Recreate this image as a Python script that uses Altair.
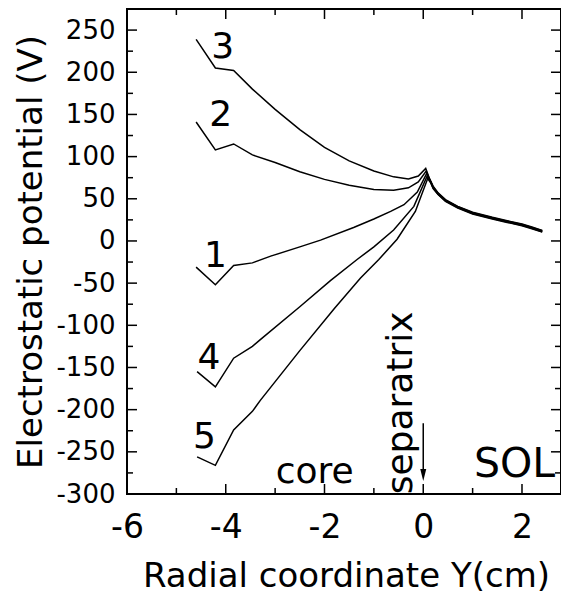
import altair as alt
import pandas as pd

# ---------------- data ----------------
curve_names = ["1", "2", "3", "4", "5"]

x1 = [-4.60, -4.21, -3.84, -3.46, -3.09, -2.5, -2.08, -1.41, -1.0, -0.66, -0.39, -0.12, 0.07, 0.13, 0.2, 0.3, 0.45, 0.7, 1.0, 1.4, 1.7, 2.0, 2.2, 2.41]
y1 = [-31, -52, -29, -26, -18, -7, 1, 16, 26, 35, 43, 58, 80, 73, 63.5, 56, 48, 40, 33, 27, 23, 19, 15.5, 11.5]

x2 = [-4.60, -4.21, -3.84, -3.46, -3.0, -2.5, -2.0, -1.5, -1.0, -0.6, -0.3, -0.1, 0.06, 0.12, 0.2, 0.3, 0.45, 0.7, 1.0, 1.4, 1.7, 2.0, 2.2, 2.41]
y2 = [141, 108, 115, 102, 93, 82, 73, 66, 61, 60, 63, 70, 83, 74, 64, 56.5, 48.5, 40.5, 33.5, 27.5, 23.5, 19.5, 16, 12]

x3 = [-4.60, -4.21, -3.84, -3.46, -3.0, -2.5, -2.0, -1.5, -1.0, -0.6, -0.3, -0.1, 0.05, 0.12, 0.2, 0.3, 0.45, 0.7, 1.0, 1.4, 1.7, 2.0, 2.2, 2.41]
y3 = [239, 205, 202, 180, 156, 132, 111, 95, 83, 76, 73.5, 77, 86, 75, 65, 57, 49, 41, 34, 28, 24, 20, 16.5, 12.5]

x4 = [-4.58, -4.21, -3.84, -3.46, -3.30, -2.5, -1.88, -1.34, -1.0, -0.6, -0.19, 0.08, 0.14, 0.2, 0.3, 0.45, 0.7, 1.0, 1.4, 1.7, 2.0, 2.2, 2.41]
y4 = [-155, -173, -139, -125, -117, -78, -47, -22, -7, 13, 41, 77, 71, 63, 55.5, 47.5, 39.5, 32.5, 26.5, 22.5, 18.5, 15, 11]

x5 = [-4.58, -4.21, -3.84, -3.46, -3.30, -2.5, -1.8, -1.27, -0.9, -0.53, -0.16, 0.09, 0.15, 0.2, 0.3, 0.45, 0.7, 1.0, 1.4, 1.7, 2.0, 2.2, 2.41]
y5 = [-256, -266, -224, -202, -189, -130, -80, -44, -22, 2, 35, 74, 69, 62, 55, 47, 39, 32, 26, 22, 18, 14.5, 10.5]

x_major = [-6, -4, -2, 0, 2]
x_minor = [-5, -3, -1, 1]
y_major = [-300, -250, -200, -150, -100, -50, 0, 50, 100, 150, 200, 250]
y_minor = [-275, -225, -175, -125, -75, -25, 25, 75, 125, 175, 225]

label_text = ["3", "2", "1", "4", "5"]
label_x = [-4.06, -4.10, -4.21, -4.34, -4.43]
label_y = [230, 149, -18, -139, -232]

core_x, core_y = [-2.2], [-287]
sol_x, sol_y = [1.85], [-279.5]
sep_x, sep_y = [-0.22], [-192]
arrow_x, arrow_top, arrow_bottom = [0], [-216], [-276]
arrow_head_y = [-277.5]

# ---------------- build ----------------
rows = []
for name, xs_, ys_ in zip(curve_names, [x1, x2, x3, x4, x5], [y1, y2, y3, y4, y5]):
    for i, (a, b) in enumerate(zip(xs_, ys_)):
        rows.append({"curve": name, "i": i, "x": a, "y": b})
df = pd.DataFrame(rows)

W, H = 434, 485
FONT = "DejaVu Sans"
xs = alt.Scale(domain=[-6, 2.79], nice=False, zero=False)
ys = alt.Scale(domain=[-300, 275], nice=False, zero=False)

ax_x = alt.Axis(
    values=x_major, ticks=False, tickSize=0, domain=False, grid=False,
    labelFont=FONT, labelFontSize=33, labelColor="black", labelPadding=17,
    labelFlush=False, labelOverlap=False, labelExpr="'' + datum.value",
    title="Radial coordinate Y(cm)", titleFont=FONT, titleFontSize=34,
    titleFontWeight="normal", titleColor="black", titleBaseline="alphabetic",
    titleX=219, titleY=92, titleAlign="center")
ax_y = alt.Axis(
    values=y_major, ticks=False, tickSize=0, domain=False, grid=False,
    labelFont=FONT, labelFontSize=26, labelColor="black", labelPadding=12,
    labelFlush=False, labelOverlap=False, labelExpr="'' + datum.value",
    title="Electrostatic potential (V)", titleFont=FONT, titleFontSize=34,
    titleFontWeight="normal", titleColor="black", titleBaseline="alphabetic",
    titleAngle=270, titleX=-86, titleY=242.5, titleAlign="center")


def X(field):
    return alt.X(field, scale=xs, axis=ax_x, title="Radial coordinate Y(cm)")


def Y(field):
    return alt.Y(field, scale=ys, axis=ax_y, title="Electrostatic potential (V)")


lines = alt.Chart(df).mark_line(color="black", strokeWidth=1.5).encode(
    x=X("x:Q"), y=Y("y:Q"), detail="curve:N", order="i:Q")


def vticks(values, y0, y1):
    return alt.Chart(pd.DataFrame({"x": values})).mark_rule(color="black", strokeWidth=1.5).encode(
        x=X("x:Q"), y=alt.value(y0), y2=alt.value(y1))


def hticks(values, x0, x1):
    return alt.Chart(pd.DataFrame({"y": values})).mark_rule(color="black", strokeWidth=1.5).encode(
        y=Y("y:Q"), x=alt.value(x0), x2=alt.value(x1))


ticks = [
    vticks(x_major, H, H - 10), vticks(x_minor, H, H - 6),
    vticks(x_major, 0, 10), vticks(x_minor, 0, 6),
    hticks(y_major, 0, 10), hticks(y_minor, 0, 6),
    hticks(y_major, W, W - 10), hticks(y_minor, W, W - 6),
]


def text_layer(t, xv, yv, size, baseline, angle=0):
    return alt.Chart(pd.DataFrame({"t": t, "x": xv, "y": yv})).mark_text(
        font=FONT, fontSize=size, color="black", align="center", baseline=baseline, angle=angle).encode(
        x=X("x:Q"), y=Y("y:Q"), text="t:N")


digits = text_layer(label_text, label_x, label_y, 36, "middle")
core = text_layer(["core"], core_x, core_y, 36, "alphabetic")
sol = text_layer(["SOL"], sol_x, sol_y, 41, "alphabetic")
sep = text_layer(["separatrix"], sep_x, sep_y, 36, "alphabetic", 270)

arrow_line = alt.Chart(pd.DataFrame({"x": arrow_x, "y": arrow_top, "y2": arrow_bottom})).mark_rule(
    color="black", strokeWidth=1.5).encode(x=X("x:Q"), y=Y("y:Q"), y2="y2:Q")

arrow_head = alt.Chart(pd.DataFrame({"x": arrow_x, "y": arrow_head_y})).mark_point(
    shape="M-0.5,-1L0.5,-1L0,1Z", filled=True, size=144, color="black", opacity=1,
    strokeWidth=0).encode(x=X("x:Q"), y=Y("y:Q"))

chart = alt.layer(lines, *ticks, digits, core, sol, sep, arrow_line, arrow_head).properties(
    width=W, height=H,
    autosize=alt.AutoSizeParams(type="none"),
    padding={"left": 119, "top": 1, "right": 0, "bottom": 100},
).configure_view(stroke="black", strokeWidth=2)

chart.save("out.html", embed_options={"renderer": "svg", "actions": False})
